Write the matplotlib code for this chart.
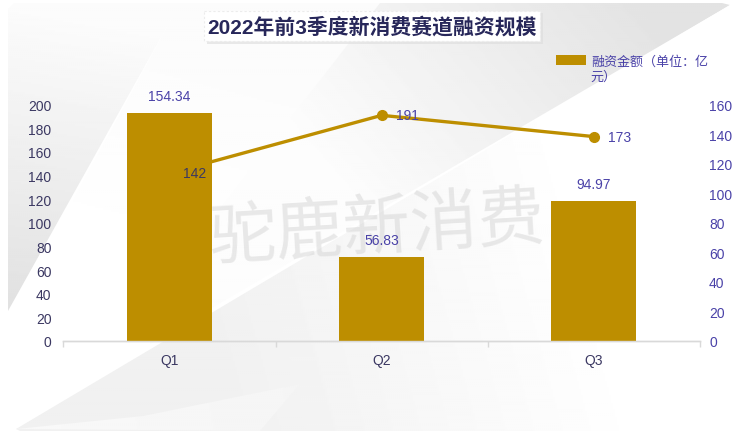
import numpy as np
import matplotlib
matplotlib.use("Agg")
import matplotlib.pyplot as plt
from matplotlib.patches import Polygon, Rectangle

plt.rcParams['font.family'] = ['Liberation Sans', 'Noto Sans CJK SC', 'DejaVu Sans']

quarters = ["Q1", "Q2", "Q3"]
amount = [154.34, 56.83, 94.97]
deals = [142, 191, 173]
left_ticks = [0, 20, 40, 60, 80, 100, 120, 140, 160, 180, 200]
right_ticks = [0, 20, 40, 60, 80, 100, 120, 140, 160]
title = "2022年前3季度新消费赛道融资规模"
legend_line1 = "融资金额（单位：亿"
legend_line2 = "元）"

gold = "#bd8e00"
blue = "#4a42a8"
dark = "#3b3862"
W, H = 750, 439

fig = plt.figure(figsize=(7.5, 4.39), dpi=100, facecolor="white")

# background, in pixel coordinates
bg = fig.add_axes([0, 0, 1, 1], zorder=0)
bg.axis("off")


def shade(pts, c_from, c_to, start, end):
    # grey gradient running from point start to point end, clipped to polygon pts
    xx, yy = np.meshgrid(np.arange(0, W, 2), np.arange(0, H, 2))
    d = np.array(end, float) - np.array(start, float)
    t = ((xx - start[0]) * d[0] + (yy - start[1]) * d[1]) / (d @ d)
    t = np.clip(t, 0, 1)
    im = bg.imshow(c_from + (c_to - c_from) * t, cmap="gray", vmin=0, vmax=1,
                   extent=[0, W, H, 0], aspect="auto", interpolation="bilinear")
    im.set_clip_path(Polygon(pts, closed=True, transform=bg.transData))


shade([(14, 4), (180, 4), (8, 312), (8, 10)], 0.985, 0.885, (60, 20), (8, 300))
shade([(180, 4), (380, 4), (150, 300), (20, 300)], 0.985, 1.0, (200, 20), (130, 290))
shade([(380, 4), (722, 4), (730, 6), (150, 345), (150, 300)], 0.89, 0.99, (640, 5), (380, 230))
shade([(730, 6), (16, 430), (20, 432), (735, 432), (735, 6)], 0.945, 1.0, (240, 400), (610, 300))
shade([(16, 430), (260, 432), (300, 385), (143, 417)], 0.975, 0.96, (16, 430), (300, 385))

# title box
bg.add_patch(Rectangle((207, 14), 336, 31, fc="#dcdcdc", ec="none", alpha=0.6, zorder=3))
bg.add_patch(Rectangle((204, 12), 336, 30, fc="white", ec="#ececec", lw=0.8, ls=(0, (2, 2)), zorder=4))
bg.text(372, 27.5, title, ha="center", va="center", fontsize=15, color="#27275a",
        fontweight="bold", family=["Liberation Sans", "Noto Sans CJK SC"], zorder=5)

# watermark
bg.text(378, 229, "驼鹿新消费", ha="center", va="center", fontsize=48.5, color="#cfcfcf",
        alpha=0.45, rotation=3.5, family="Noto Sans CJK SC", zorder=5)

# second line of the legend text
bg.text(590, 77.5, legend_line2, ha="left", va="center", fontsize=9.4, color=blue, zorder=5)

bg.set_xlim(0, W)
bg.set_ylim(H, 0)

# chart
ax = fig.add_axes([63.3 / W, 1 - 342 / H, (700 - 63.3) / W, 236.3 / H], zorder=1)
ax.patch.set_alpha(0)
x = np.arange(len(quarters))
ax.plot(x, deals, color=gold, lw=2.4, marker="o", ms=7, zorder=2)
ax.set_ylim(0, 200)
ax.set_xlim(-0.5, 2.5)
ax.set_yticks(left_ticks)
ax.tick_params(axis="y", length=0, pad=8.5, labelsize=10, labelcolor=dark)

ax2 = ax.twinx()
ax2.patch.set_alpha(0)
ax2.bar(x, amount, width=0.4, color=gold, zorder=2)
ax2.set_ylim(0, 160)
ax2.set_yticks(right_ticks)
ax2.tick_params(axis="y", length=0, pad=6.5, labelsize=10, labelcolor=blue)

ax.set_xticks(x)
ax.set_xticklabels(quarters, fontsize=10, color=dark)
ax.set_xticks([-0.5, 0.5, 1.5, 2.5], minor=True)
ax.tick_params(axis="x", which="major", length=0, pad=8.5)
ax.tick_params(axis="x", which="minor", length=4, color="#d9d9d9", width=1)

for a in (ax, ax2):
    for side in ("top", "left", "right"):
        a.spines[side].set_visible(False)
    a.spines["bottom"].set_color("#d9d9d9")
    a.spines["bottom"].set_linewidth(1)

for i, v in enumerate(amount):
    ax2.annotate(f"{v:.2f}", (x[i], v), xytext=(0, 7), textcoords="offset points",
                 ha="center", va="bottom", fontsize=10, color=blue, zorder=5)
for i, v in enumerate(deals):
    ax2.annotate(str(v), (x[i], v * 160 / 200), xytext=(18.5, 0), textcoords="offset points",
                 ha="center", va="center", fontsize=10, color=dark if i == 0 else blue, zorder=5)

fig.legend(handles=ax2.patches[:1], labels=[legend_line1], loc="upper left",
           bbox_to_anchor=(553 / W, 1 - 53.5 / H), frameon=False, fontsize=9.4,
           labelcolor=blue, handlelength=2.3, handleheight=0.75, handletextpad=0.45,
           borderpad=0.2, borderaxespad=0)

fig.savefig("out.png", dpi=100)
